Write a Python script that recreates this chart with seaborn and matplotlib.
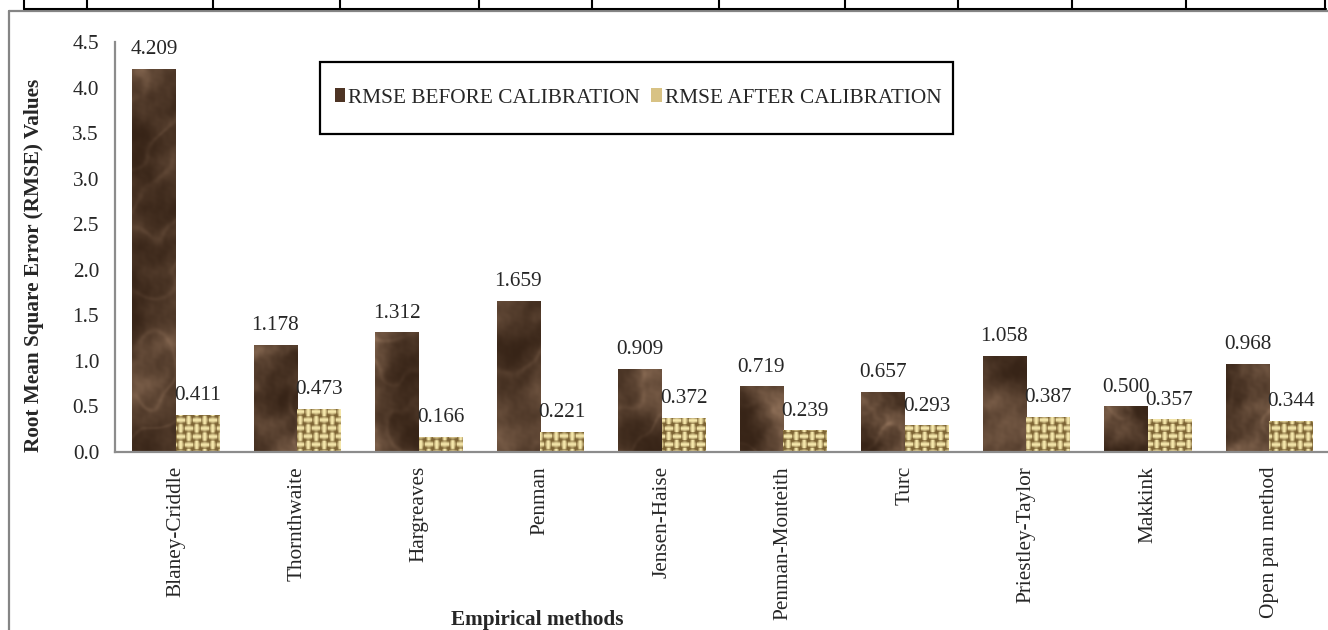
import numpy as np
import pandas as pd
import matplotlib
matplotlib.use("Agg")
import matplotlib.pyplot as plt
from matplotlib.lines import Line2D
from matplotlib.patches import Rectangle, Patch
import seaborn as sns

# ---- data -------------------------------------------------------------
methods = ["Blaney-Criddle", "Thornthwaite", "Hargreaves", "Penman",
           "Jensen-Haise", "Penman-Monteith", "Turc", "Priestley-Taylor",
           "Makkink", "Open pan method"]
rmse_before = [4.209, 1.178, 1.312, 1.659, 0.909, 0.719, 0.657, 1.058, 0.500, 0.968]
rmse_after = [0.411, 0.473, 0.166, 0.221, 0.372, 0.239, 0.293, 0.387, 0.357, 0.344]
series_names = ["RMSE BEFORE CALIBRATION", "RMSE AFTER CALIBRATION"]
y_ticks = [0.0, 0.5, 1.0, 1.5, 2.0, 2.5, 3.0, 3.5, 4.0, 4.5]

df = pd.DataFrame({
    "method": methods * 2,
    "rmse": rmse_before + rmse_after,
    "stage": [series_names[0]] * len(methods) + [series_names[1]] * len(methods),
})

# ---- style ------------------------------------------------------------
sns.set_theme(style="white")
plt.rcParams["font.family"] = ["Liberation Serif", "DejaVu Serif"]
FS = 15.3

W, H = 1328, 630
fig = plt.figure(figsize=(W / 100, H / 100), dpi=100)
fig.patch.set_facecolor("white")


def fx(px):
    return px / W


def fy(py):
    return 1 - py / H


ax = fig.add_axes([fx(115), fy(452), fx(1330) - fx(115), fy(42) - fy(452)])

brown = "#4d3424"
tan = "#d8c284"

sns.barplot(data=df, x="method", y="rmse", hue="stage", palette=[brown, tan],
            width=0.72, saturation=1, legend=False, ax=ax, linewidth=0)

ax.set_xlim(-0.5, 9.5)
ax.set_ylim(0, 4.5)
ax.set_yticks(y_ticks)
ax.set_yticklabels([f"{t:.1f}" for t in y_ticks])
ax.tick_params(axis="y", length=0, pad=11.5, labelsize=FS)
ax.tick_params(axis="x", length=0, pad=10, labelsize=FS, rotation=90)
ax.set_xlabel("")
ax.set_ylabel("")
for s in ["top", "right"]:
    ax.spines[s].set_visible(False)
for s in ["left", "bottom"]:
    ax.spines[s].set_color("#8c8c8c")
    ax.spines[s].set_linewidth(1.6)
    ax.spines[s].set_zorder(5)


# ---- bar textures -----------------------------------------------------
def wavy_field(u, v, base, octaves, seed):
    """Smooth deterministic field built from rotated, warped sine waves."""
    n = np.zeros_like(u, dtype=float)
    amp = 1.0
    for k in range(octaves):
        a = (k + seed) * 2.39996
        f = base * 1.7 ** k
        ph = (k + 1) * 1.913 + seed
        d = u * np.cos(a) + v * np.sin(a)
        warp = 1.4 * np.sin(f * 0.61 * (u * np.sin(a) - v * np.cos(a)) + ph * 0.7)
        n += amp * np.sin(f * d + warp + ph)
        amp *= 0.62
    return n


def marble(u, v):
    cloud = wavy_field(u, v, 0.035, 7, 0.3)
    cloud = (cloud - cloud.min()) / (np.ptp(cloud) + 1e-9)
    vein_src = wavy_field(u * 1.1 + 13, v * 0.9 - 7, 0.02, 5, 2.1)
    veins = np.exp(-(np.abs(np.sin(vein_src * 2.2)) / 0.3) ** 2)
    t = np.clip(0.7 * cloud ** 1.4 + 0.25 * veins * (0.3 + 0.7 * cloud), 0, 1)
    dark = np.array([55, 36, 23]) / 255
    light = np.array([145, 114, 90]) / 255
    return dark + (light - dark) * t[..., None]


def burlap(u, v):
    p = 8.0
    fu = 0.5 - 0.5 * np.cos(2 * np.pi * u / p)
    fv = 0.5 - 0.5 * np.cos(2 * np.pi * v / p)
    over = ((np.floor(u / p) + np.floor(v / p)) % 2).astype(bool)
    b = np.where(over, fu, fv)
    gap = (1 - fu) * (1 - fv)
    b = np.clip(0.3 + 0.7 * b - 0.5 * gap, 0, 1)
    dark = np.array([125, 100, 52]) / 255
    light = np.array([246, 232, 172]) / 255
    return dark + (light - dark) * b[..., None]


fig.canvas.draw()
for cont, tex in zip(ax.containers, [marble, burlap]):
    for bar in cont:
        x0, y0 = bar.get_x(), bar.get_y()
        x1, y1 = x0 + bar.get_width(), y0 + bar.get_height()
        (px0, py0), (px1, py1) = ax.transData.transform([(x0, y0), (x1, y1)])
        nw = max(int(round(px1 - px0)), 2)
        nh = max(int(round(py1 - py0)), 2)
        uu, vv = np.meshgrid(np.arange(nw) + px0, np.arange(nh) + (H - py1))
        img = tex(uu, vv)
        im = ax.imshow(img, extent=(x0, x1, y0, y1), aspect="auto",
                       interpolation="bilinear", zorder=2.5, origin="upper")
        im.set_clip_path(bar)
    ax.bar_label(cont, fmt="%.3f", padding=7, fontsize=FS)

ax.set_xlim(-0.5, 9.5)
ax.set_ylim(0, 4.5)

# ---- axis titles ------------------------------------------------------
fig.text(fx(34), fy(265), "Root Mean Square Error (RMSE) Values", rotation=90,
         ha="center", va="center", fontsize=FS, fontweight="bold")
fig.text(fx(537), fy(620), "Empirical methods", ha="center", va="center",
         fontsize=FS, fontweight="bold")

# ---- legend -----------------------------------------------------------
fig.add_artist(Rectangle((fx(320), fy(134)), fx(953) - fx(320), fy(62) - fy(134),
                         transform=fig.transFigure, fill=False,
                         edgecolor="black", linewidth=1.6))
handles = [Patch(facecolor=brown, edgecolor="none"),
           Patch(facecolor=tan, edgecolor="none")]
fig.legend(handles, series_names, loc="center", bbox_to_anchor=(fx(638), fy(98)),
           ncol=2, frameon=False, fontsize=FS, handlelength=0.5,
           handleheight=0.6, handletextpad=0.12, columnspacing=0.55)

# ---- surrounding frame and table rules -----------------------------
fig.add_artist(Line2D([fx(8.5), fx(8.5)], [fy(10.5), 0], transform=fig.transFigure,
                      color="#858585", linewidth=1.6))
fig.add_artist(Line2D([fx(8.5), 1], [fy(10.5), fy(10.5)], transform=fig.transFigure,
                      color="#858585", linewidth=1.6))
fig.add_artist(Line2D([fx(24), fx(1326)], [fy(9), fy(9)], transform=fig.transFigure,
                      color="black", linewidth=1.5))
table_cols = [24, 87, 213, 340, 479, 592, 719, 845, 958, 1072, 1186, 1325]
for cx in table_cols:
    fig.add_artist(Line2D([fx(cx), fx(cx)], [fy(9), 1], transform=fig.transFigure,
                          color="black", linewidth=1.5))

fig.savefig("out.png", dpi=100, facecolor="white")
